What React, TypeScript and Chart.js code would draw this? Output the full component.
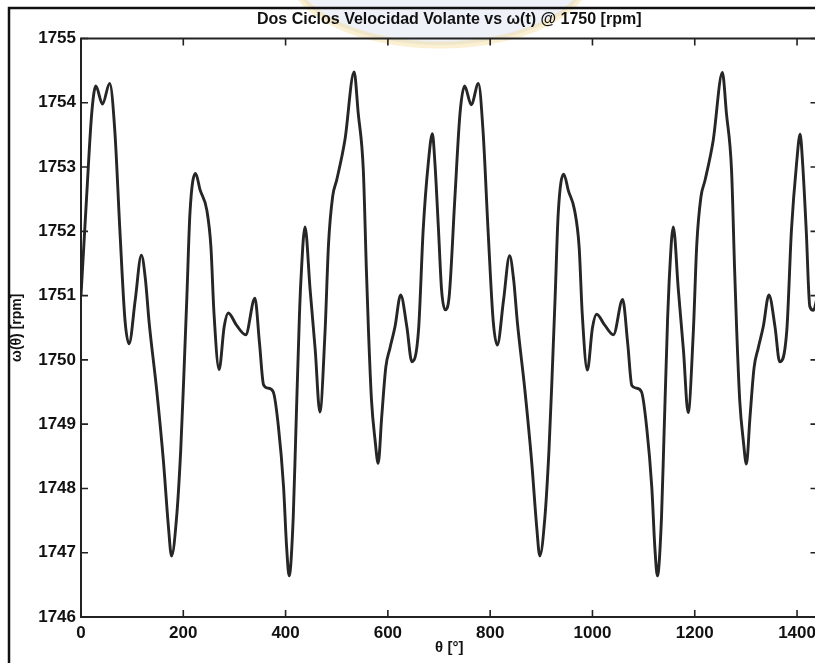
import React, { useEffect, useRef } from "react";
import { Chart, registerables } from "chart.js";

Chart.register(...registerables);

// ---- data ----
const thetaDeg: number[] = [
  0, 11, 21, 29, 42, 56, 66, 76, 86, 94,
  106, 118, 126, 133, 148, 161, 171, 177, 187, 195,
  201, 207, 213, 224, 233, 246, 254, 260, 270, 280,
  288, 304, 322, 340, 349, 357, 366, 376, 386, 396,
  402, 407, 415, 420, 427, 430, 438, 448, 458, 467,
  477, 484, 492, 500, 516, 534, 542, 552, 558, 562,
  568, 575, 581, 588, 596, 604, 614, 625, 637, 647,
  660, 669, 679, 687, 692, 699, 705, 712,
  720, 731, 741, 750, 763, 777, 786, 796, 806, 814,
  826, 838, 846, 853, 868, 881, 891, 897, 907, 915,
  921, 927, 933, 944, 953, 965, 974, 980, 990, 1000,
  1008, 1024, 1041, 1059, 1069, 1077, 1086, 1096, 1106, 1116,
  1122, 1127, 1135, 1140, 1147, 1150, 1158, 1168, 1178, 1187,
  1197, 1204, 1212, 1220, 1236, 1254, 1262, 1272, 1278, 1282,
  1288, 1295, 1301, 1308, 1316, 1324, 1334, 1345, 1357, 1366,
  1380, 1389, 1399, 1406, 1411, 1418, 1425, 1432, 1440,
];

const omegaRpm: number[] = [
  1751.0, 1752.54, 1753.84, 1754.26, 1753.98, 1754.3, 1753.58, 1752.02, 1750.62, 1750.25,
  1750.93, 1751.63, 1751.25, 1750.6, 1749.53, 1748.44, 1747.4, 1746.95, 1747.56, 1748.6,
  1749.74, 1750.98, 1752.28, 1752.9, 1752.64, 1752.33, 1751.76, 1750.73, 1749.85, 1750.52,
  1750.73, 1750.54, 1750.39, 1750.96, 1750.26, 1749.61, 1749.56, 1749.5, 1748.96, 1748.03,
  1747.09, 1746.64, 1747.56, 1748.86, 1750.67, 1751.24, 1752.07, 1751.09, 1750.15, 1749.19,
  1750.41, 1751.81, 1752.54, 1752.8, 1753.42, 1754.48, 1753.84, 1752.95, 1751.4, 1750.47,
  1749.37, 1748.75, 1748.39, 1749.12, 1749.89, 1750.18, 1750.52, 1751.01, 1750.52, 1749.97,
  1750.47, 1752.02, 1753.06, 1753.52, 1753.06, 1752.02, 1751.09, 1750.78,
  1751.0, 1752.52, 1753.83, 1754.26, 1753.97, 1754.3, 1753.57, 1752.0, 1750.6, 1750.23,
  1750.92, 1751.62, 1751.24, 1750.6, 1749.52, 1748.43, 1747.4, 1746.95, 1747.55, 1748.6,
  1749.73, 1750.97, 1752.27, 1752.89, 1752.63, 1752.33, 1751.75, 1750.72, 1749.84, 1750.5,
  1750.71, 1750.54, 1750.39, 1750.94, 1750.25, 1749.6, 1749.56, 1749.5, 1748.95, 1748.02,
  1747.08, 1746.64, 1747.55, 1748.85, 1750.66, 1751.23, 1752.07, 1751.08, 1750.14, 1749.18,
  1750.4, 1751.8, 1752.53, 1752.79, 1753.41, 1754.47, 1753.83, 1752.94, 1751.39, 1750.46,
  1749.36, 1748.74, 1748.38, 1749.11, 1749.88, 1750.18, 1750.52, 1751.01, 1750.51, 1749.97,
  1750.46, 1752.01, 1753.05, 1753.51, 1753.05, 1752.01, 1750.83, 1750.77, 1751.0,
];

const xTickValues: number[] = [0, 200, 400, 600, 800, 1000, 1200, 1400];
const yTickValues: number[] = [1746, 1747, 1748, 1749, 1750, 1751, 1752, 1753, 1754, 1755];
const xMin = 0;
const xMax = 1440;
const yMin = 1746;
const yMax = 1755;

const titleText = "Dos Ciclos Velocidad Volante vs \u03c9(t) @ 1750 [rpm]";
const xLabel = "\u03b8 [\u00b0]";
const yLabel = "\u03c9(\u03b8) [rpm]";

const FONT = "'Liberation Sans', Arial, Helvetica, sans-serif";
const CANVAS_W = 840;
const CANVAS_H = 663;

const matlabFrame = {
  id: "matlabFrame",
  beforeDraw(chart: any) {
    const ctx = chart.ctx as CanvasRenderingContext2D;
    ctx.save();
    ctx.fillStyle = "#ffffff";
    ctx.fillRect(0, 0, chart.width, chart.height);
    // faint watermark logo behind the title
    ctx.beginPath();
    ctx.ellipse(440, -30, 150, 75, 0, 0, Math.PI * 2);
    ctx.fillStyle = "rgba(212,220,234,0.4)";
    ctx.fill();
    ctx.lineWidth = 7;
    ctx.strokeStyle = "rgba(246,200,95,0.28)";
    ctx.stroke();
    // outer picture frame
    ctx.lineWidth = 2.5;
    ctx.strokeStyle = "#111111";
    ctx.strokeRect(9, 8, chart.width + 40, chart.height + 40);
    ctx.restore();
  },
  afterDraw(chart: any) {
    const ctx = chart.ctx as CanvasRenderingContext2D;
    const { left, right, top, bottom } = chart.chartArea;
    const xs = chart.scales.x;
    const ys = chart.scales.y;
    ctx.save();
    ctx.strokeStyle = "#222222";
    ctx.lineWidth = 2;
    ctx.strokeRect(left, top, right - left, bottom - top);
    const tl = 7;
    ctx.beginPath();
    xs.ticks.forEach((t: any) => {
      const px = xs.getPixelForValue(t.value);
      ctx.moveTo(px, bottom);
      ctx.lineTo(px, bottom - tl);
      ctx.moveTo(px, top);
      ctx.lineTo(px, top + tl);
    });
    ys.ticks.forEach((t: any) => {
      const py = ys.getPixelForValue(t.value);
      ctx.moveTo(left, py);
      ctx.lineTo(left + tl, py);
      ctx.moveTo(right, py);
      ctx.lineTo(right - tl, py);
    });
    ctx.lineWidth = 1.6;
    ctx.stroke();
    ctx.restore();
  },
};

export default function App() {
  const ref = useRef<HTMLCanvasElement | null>(null);

  useEffect(() => {
    if (!ref.current) return;
    const points = thetaDeg.map((t, i) => ({ x: t, y: omegaRpm[i] }));
    const chart = new Chart(ref.current, {
      type: "line",
      data: {
        datasets: [
          {
            data: points,
            borderColor: "#262626",
            borderWidth: 2.9,
            pointRadius: 0,
            fill: false,
            cubicInterpolationMode: "monotone",
          },
        ],
      },
      options: {
        animation: false,
        responsive: false,
        maintainAspectRatio: false,
        devicePixelRatio: 1,
        layout: { padding: { left: 0, top: 0, right: CANVAS_W - 817.5, bottom: 0 } },
        plugins: {
          legend: { display: false },
          tooltip: { enabled: false },
          title: {
            display: true,
            text: titleText,
            color: "#111111",
            fullSize: false,
            font: { family: FONT, size: 16, weight: "bold" },
            padding: { top: 10.4, bottom: 8.9 },
          },
        },
        scales: {
          x: {
            type: "linear",
            min: xMin,
            max: xMax,
            border: { display: false },
            grid: { display: false, drawTicks: false },
            afterBuildTicks: (s: any) => {
              s.ticks = xTickValues.map((v) => ({ value: v }));
            },
            ticks: {
              autoSkip: false,
              maxRotation: 0,
              padding: 6,
              color: "#111111",
              font: { family: FONT, size: 17, weight: "bold" },
              callback: (v: any) => String(v),
            },
            title: {
              display: true,
              text: xLabel,
              color: "#111111",
              font: { family: FONT, size: 15, weight: "bold" },
              padding: { top: 0, bottom: 6 },
            },
            afterFit: (s: any) => {
              s.height = 46;
            },
          },
          y: {
            type: "linear",
            min: yMin,
            max: yMax,
            border: { display: false },
            grid: { display: false, drawTicks: false },
            afterBuildTicks: (s: any) => {
              s.ticks = yTickValues.map((v) => ({ value: v }));
            },
            ticks: {
              autoSkip: false,
              padding: 5,
              color: "#111111",
              font: { family: FONT, size: 17, weight: "bold" },
              callback: (v: any) => String(v),
            },
            title: {
              display: true,
              text: yLabel,
              color: "#111111",
              font: { family: FONT, size: 14, weight: "bold" },
              padding: { top: 9, bottom: 0 },
            },
            afterFit: (s: any) => {
              s.width = 81;
            },
          },
        },
      },
      plugins: [matlabFrame],
    } as any);
    return () => chart.destroy();
  }, []);

  return (
    <div
      style={{
        position: "fixed",
        left: 0,
        top: 0,
        width: 815,
        height: 663,
        overflow: "hidden",
        background: "#fff",
      }}
    >
      <canvas
        ref={ref}
        width={CANVAS_W}
        height={CANVAS_H}
        style={{ width: CANVAS_W, height: CANVAS_H, display: "block" }}
      />
    </div>
  );
}
